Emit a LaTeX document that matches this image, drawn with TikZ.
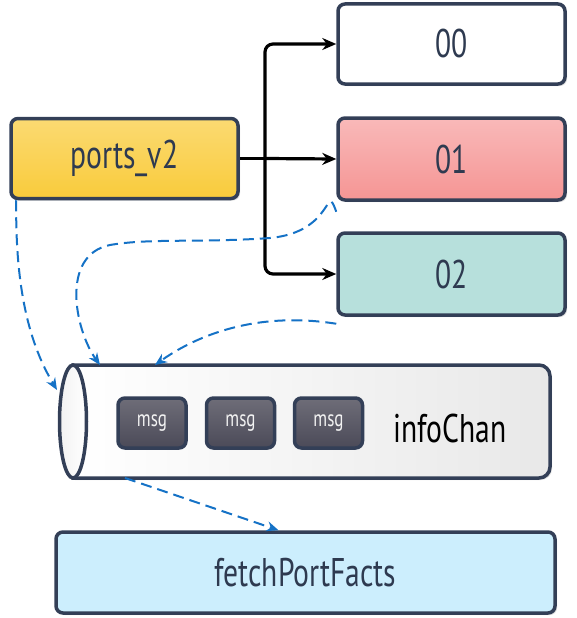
\documentclass[tikz,border=0pt]{standalone}
\usepackage{fontspec}
\setmainfont[FakeStretch=0.74]{PT Sans}
\usetikzlibrary{arrows.meta,shadows,shapes.geometric}
\definecolor{navy}{HTML}{333F57}
\definecolor{txt}{HTML}{2E3A50}
\definecolor{blu}{HTML}{1572C6}
\definecolor{ytop}{HTML}{FBDA72}
\definecolor{ybot}{HTML}{F9CB3B}
\definecolor{rtop}{HTML}{F9B9B9}
\definecolor{rbot}{HTML}{F59594}
\definecolor{teal}{HTML}{B7E0DC}
\definecolor{lblue}{HTML}{CCEEFD}
\definecolor{mtop}{HTML}{6E6D78}
\definecolor{mbot}{HTML}{4B4A58}
\tikzset{
  box/.style={draw=navy,line width=3.5pt,rounded corners=7pt,minimum width=227pt,minimum height=80pt,
    text=txt,font=\fontsize{40}{42}\selectfont,
    drop shadow={opacity=0.25,shadow xshift=2pt,shadow yshift=-2pt}},
  msgbox/.style={draw=navy,line width=3.5pt,rounded corners=7pt,minimum width=68pt,minimum height=50pt,
    top color=mtop,bottom color=mbot,text=white!90!gray,font=\fontsize{23}{24}\selectfont},
  blk/.style={line width=3.2pt,-{Stealth[length=14pt,width=12pt]}},
  dsh/.style={draw=blu,line width=2pt,dash pattern=on 11pt off 6pt,-{Stealth[length=12pt,width=10pt]}},
}
\begin{document}
\begin{tikzpicture}[x=1pt,y=-1pt]
\useasboundingbox (0,0) rectangle (576,618);
% boxes
\node[box,top color=ytop,bottom color=ybot] (pv) at (124.5,158.5) {ports\_v2};
\node[box,fill=white] (b00) at (451.5,44) {00};
\node[box,top color=rtop,bottom color=rbot,minimum height=82pt] (b01) at (451.5,159) {01};
\node[box,fill=teal,minimum height=82pt] (b02) at (451.5,274) {02};
\node[box,fill=lblue,minimum width=499pt,minimum height=81pt] (fpf) at (305.5,572.5) {fetchPortFacts};
% cylinder
\path[drop shadow={opacity=0.25,shadow xshift=2pt,shadow yshift=-2pt},left color=white,right color=gray!18,draw=navy,line width=3.5pt]
  (73,365) [rounded corners=11pt] -- (550,365) -- (550,478) [sharp corners] -- (73,478) -- cycle;
\draw[navy,line width=3.5pt,left color=gray!10,right color=white] (73,421.5) ellipse[x radius=13.5,y radius=56.5];
\node[msgbox] (m1) at (152,423) {msg};
\node[msgbox] (m2) at (240.5,423) {msg};
\node[msgbox] (m3) at (328.5,423) {msg};
\node[font=\fontsize{40}{42}\selectfont,text=black] (ic) at (450,428) {infoChan};
\coordinate (cl) at (57,390);
\coordinate (ct1) at (100,365);
\coordinate (ct2) at (155,365);
\coordinate (cb) at (125,478);
% black connectors
\coordinate (j) at (265,158.5);
\draw[line width=3.2pt] (pv.east) -- (j);
\draw[blk,rounded corners=8pt] (j) |- (b00.west);
\draw[blk] (j) -- (b01.west);
\draw[blk,rounded corners=8pt] (j) |- (b02.west);
% dashed blue connectors
\draw[dsh] ([xshift=7pt]pv.south west) .. controls (15,290) and (30,345) .. (cl);
\draw[dsh] ([yshift=-10pt]b01.south west) .. controls (325,180) and (335,232) .. (270,238)
  .. controls (200,243) and (150,238) .. (110,245) .. controls (60,255) and (75,330) .. (ct1);
\draw[dsh] ([yshift=-7pt]b02.south west) .. controls (250,310) and (190,340) .. (ct2);
\draw[dsh] (cb) -- ([xshift=-27pt]fpf.north);
\end{tikzpicture}
\end{document}
